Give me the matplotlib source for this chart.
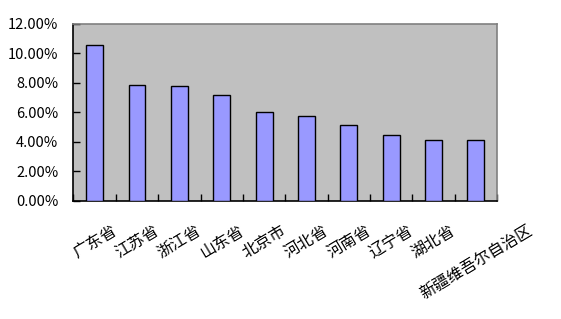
import matplotlib
matplotlib.use('Agg')
import matplotlib.pyplot as plt
from matplotlib.ticker import FuncFormatter, MultipleLocator
import numpy as np

plt.rcParams['font.family'] = ['Noto Sans CJK SC', 'DejaVu Sans']

# Data
provinces = ['广东省', '江苏省', '浙江省', '山东省', '北京市', '河北省',
             '河南省', '辽宁省', '湖北省', '新疆维吾尔自治区']
shares = [0.1052, 0.0788, 0.0775, 0.0715, 0.0600, 0.0573,
          0.0512, 0.0444, 0.0410, 0.0410]

fig = plt.figure(figsize=(5.61, 3.19), dpi=100)
ax = fig.add_axes([0.131, 0.370, 0.755, 0.556])
ax.set_facecolor('#C0C0C0')

x = np.arange(len(provinces))
ax.bar(x, shares, width=0.4, color='#9999FF', edgecolor='black', linewidth=1.0, zorder=3)

ax.set_xlim(-0.5, len(provinces) - 0.5)
ax.set_ylim(0, 0.12)

# y axis
ax.yaxis.set_major_locator(MultipleLocator(0.02))
ax.yaxis.set_major_formatter(FuncFormatter(lambda v, p: f'{v * 100:.2f}%'))
ax.tick_params(axis='y', direction='in', length=5, width=1, labelsize=10.5, pad=11, colors='black')

# x axis: ticks between categories, labels at centres
ax.set_xticks(x)
ax.set_xticklabels(provinces, rotation=31, ha='center', va='top', fontsize=11.5)
ax.set_xticks(np.arange(-0.5, len(provinces)), minor=True)
ax.tick_params(axis='x', which='major', length=0, pad=15)
ax.tick_params(axis='x', which='minor', direction='in', length=5, width=1)

for side in ['top', 'right']:
    ax.spines[side].set_color('#808080')
    ax.spines[side].set_linewidth(1.2)
for side in ['left', 'bottom']:
    ax.spines[side].set_color('black')
    ax.spines[side].set_linewidth(1.2)

fig.savefig('out.png', dpi=100)
